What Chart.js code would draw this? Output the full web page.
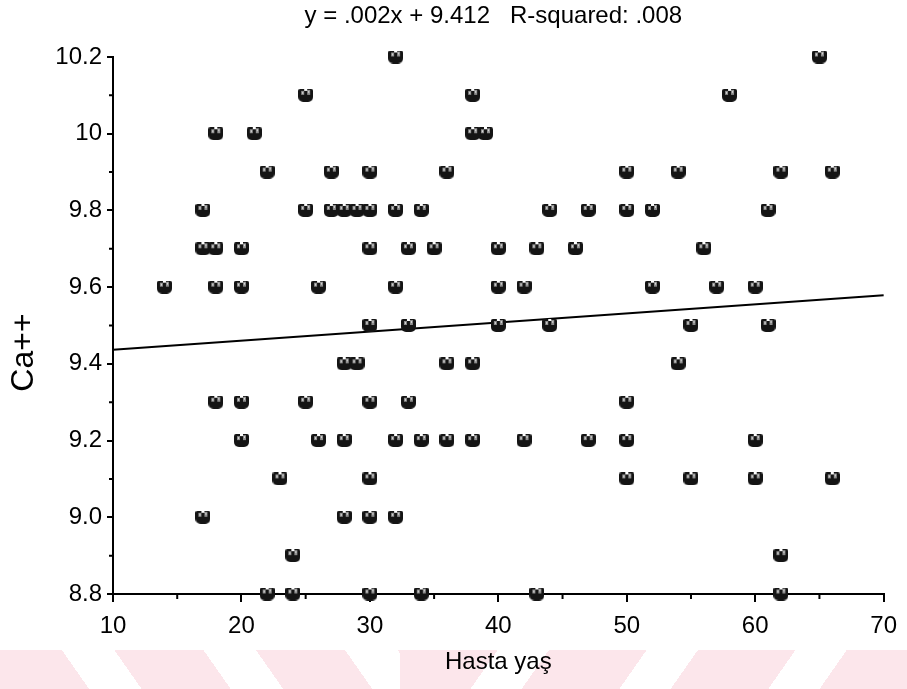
<!DOCTYPE html>
<html lang="tr">
<head>
  <meta charset="UTF-8">
  <title>Ca++ - Hasta yaş</title>
  <script src="https://cdn.jsdelivr.net/npm/chart.js"></script>
  <style>
    body {
      margin: 0;
      background: #fff;
      overflow: hidden;
    }
    .wrap {
      position: relative;
      width: 907px;
      height: 689px;
    }
    /* faint pink watermark stripes along the bottom of the scan */
    .band {
      position: absolute;
      top: 650px;
      height: 39px;
    }
    .band.left {
      left: 0;
      width: 400px;
      background: repeating-linear-gradient(55deg, #fce6eb 0 73px, #fff 73px 116px);
    }
    .band.right {
      left: 400px;
      width: 507px;
      background: repeating-linear-gradient(125deg, #fce6eb 0 80px, #fff 80px 122px);
    }
    canvas {
      position: absolute;
      left: 0;
      top: 0;
    }
  </style>
</head>
<body>
  <div class="wrap">
    <div class="band left"></div>
    <div class="band right"></div>
    <canvas id="chart" width="907" height="689"></canvas>
  </div>

  <script>
    // Ca++ levels and the patient ages plotted at each level
    const caLevels = [10.2, 10.1, 10.0, 9.9, 9.8, 9.7, 9.6, 9.5, 9.4, 9.3, 9.2, 9.1, 9.0, 8.9, 8.8];
    const agesAtLevel = [
      [32, 65],
      [25, 38, 58],
      [18, 21, 38, 39],
      [22, 27, 30, 36, 50, 54, 62, 66],
      [17, 25, 27, 28, 29, 30, 32, 34, 44, 47, 50, 52, 61],
      [17, 18, 20, 30, 33, 35, 40, 43, 46, 56],
      [14, 18, 20, 26, 32, 40, 42, 52, 57, 60],
      [30, 33, 40, 44, 55, 61],
      [28, 29, 36, 38, 54],
      [18, 20, 25, 30, 33, 50],
      [20, 26, 28, 32, 34, 36, 38, 42, 47, 50, 60],
      [23, 30, 50, 55, 60, 66],
      [17, 28, 30, 32],
      [24, 62],
      [22, 24, 30, 34, 43, 62]
    ];

    // fitted line as drawn
    const fitAges = [10, 70];
    const fitCa = [9.437, 9.579];

    // axes
    const xTickValues = [10, 20, 30, 40, 50, 60, 70];
    const xMinorValues = [15, 25, 35, 45, 55, 65];
    const yTickValues = [8.8, 9.0, 9.2, 9.4, 9.6, 9.8, 10.0, 10.2];
    const yTickLabels = ['8.8', '9.0', '9.2', '9.4', '9.6', '9.8', '10', '10.2'];
    const yMinorValues = [8.9, 9.1, 9.3, 9.5, 9.7, 9.9, 10.1];

    const chartTitle = 'y = .002x + 9.412   R-squared: .008';
    const xTitle = 'Hasta yaş';
    const yTitle = 'Ca++';

    const textFont = "'Liberation Sans', Arial, sans-serif";

    const points = [];
    caLevels.forEach((ca, i) => {
      agesAtLevel[i].forEach(age => points.push({ x: age, y: ca }));
    });

    // speckled "cup" marker like the scanned symbols
    function makeMarker() {
      const c = document.createElement('canvas');
      c.width = 15;
      c.height = 13;
      const g = c.getContext('2d');
      g.fillStyle = '#141414';
      g.beginPath();
      g.roundRect(0, 0, 15, 13, [2, 2, 5, 5]);
      g.fill();
      g.fillStyle = '#8e8e8e';
      g.fillRect(3, 2, 3, 4);
      g.fillRect(9, 1, 3, 5);
      g.fillStyle = '#d8d8d8';
      g.fillRect(4, 3, 1, 2);
      g.fillRect(10, 2, 1, 2);
      g.fillStyle = '#fff';
      g.fillRect(6, 0, 3, 2);
      return c;
    }

    const extras = {
      id: 'extras',
      afterDraw(chart) {
        const { ctx, scales: { x, y } } = chart;
        ctx.save();
        ctx.strokeStyle = '#000';
        ctx.lineWidth = 2;
        ctx.beginPath();
        xMinorValues.forEach(v => {
          const px = x.getPixelForValue(v);
          ctx.moveTo(px, y.bottom);
          ctx.lineTo(px, y.bottom + 5);
        });
        yMinorValues.forEach(v => {
          const py = y.getPixelForValue(v);
          ctx.moveTo(x.left, py);
          ctx.lineTo(x.left - 4, py);
        });
        ctx.stroke();

        ctx.fillStyle = '#000';
        ctx.textAlign = 'center';
        ctx.textBaseline = 'middle';
        ctx.font = '24px ' + textFont;
        ctx.fillText(chartTitle, (x.left + x.right) / 2 - 5, 16);

        ctx.font = '32px ' + textFont;
        ctx.translate(24, (y.top + y.bottom) / 2 + 27);
        ctx.rotate(-Math.PI / 2);
        ctx.fillText(yTitle, 0, 0);
        ctx.restore();
      }
    };

    const ctx = document.getElementById('chart').getContext('2d');
    new Chart(ctx, {
      type: 'scatter',
      data: {
        datasets: [
          {
            label: 'Ca++',
            data: points,
            pointStyle: makeMarker(),
            pointRadius: 7,
            pointHoverRadius: 7,
            clip: false,
            order: 1
          },
          {
            type: 'line',
            label: 'fit',
            data: fitAges.map((a, i) => ({ x: a, y: fitCa[i] })),
            borderColor: '#000',
            borderWidth: 2,
            pointRadius: 0,
            fill: false,
            clip: false,
            order: 2
          }
        ]
      },
      options: {
        responsive: false,
        animation: false,
        events: [],
        layout: { padding: { top: 57, right: 15, left: 0, bottom: 0 } },
        plugins: {
          legend: { display: false },
          tooltip: { enabled: false }
        },
        scales: {
          x: {
            type: 'linear',
            min: 10,
            max: 70,
            afterBuildTicks: s => { s.ticks = xTickValues.map(v => ({ value: v })); },
            afterFit: s => { s.height = 95; },
            border: { display: true, color: '#000', width: 2 },
            grid: { drawOnChartArea: false, drawTicks: true, tickLength: 8, color: '#000', lineWidth: 2 },
            ticks: {
              color: '#000',
              padding: 10,
              maxRotation: 0,
              font: { family: textFont, size: 24 }
            },
            title: {
              display: true,
              text: xTitle,
              color: '#000',
              font: { family: textFont, size: 24 },
              padding: { top: 0, bottom: 12 }
            }
          },
          y: {
            type: 'linear',
            min: 8.8,
            max: 10.2,
            afterBuildTicks: s => { s.ticks = yTickValues.map(v => ({ value: v })); },
            afterFit: s => { s.width = 113; },
            border: { display: true, color: '#000', width: 2 },
            grid: { drawOnChartArea: false, drawTicks: true, tickLength: 6, color: '#000', lineWidth: 2 },
            ticks: {
              color: '#000',
              padding: 5,
              font: { family: textFont, size: 24 },
              callback: (v, i) => yTickLabels[i]
            }
          }
        }
      },
      plugins: [extras]
    });
  </script>
</body>
</html>
